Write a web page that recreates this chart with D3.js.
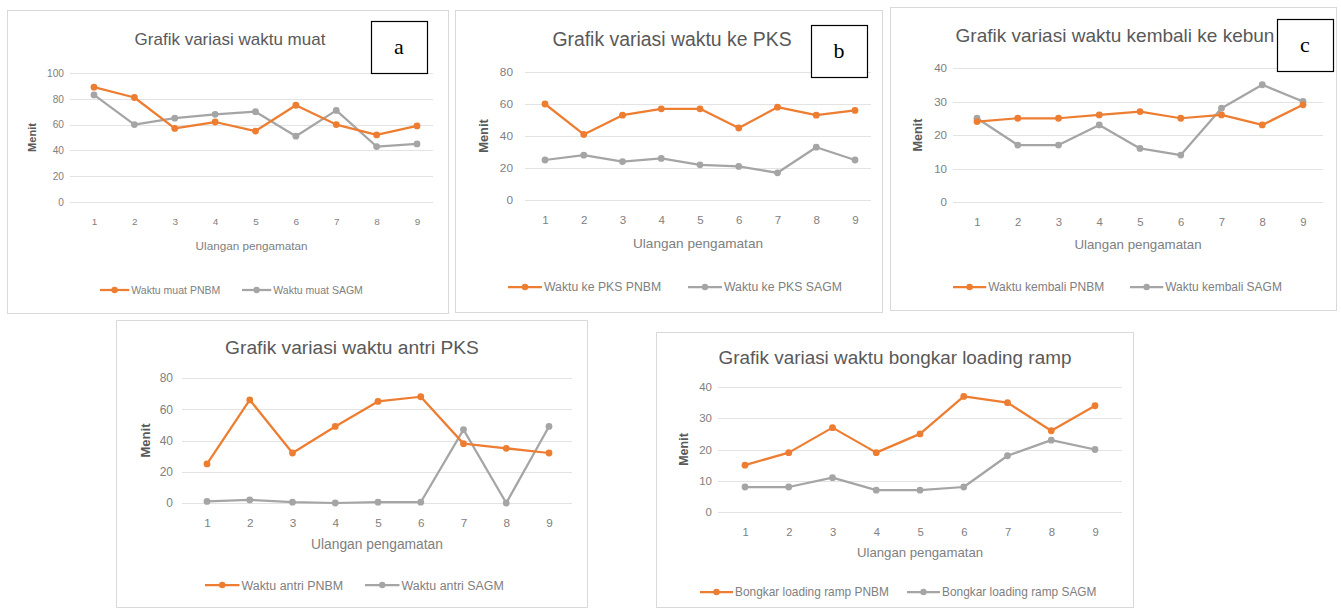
<!DOCTYPE html>
<html>
<head>
<meta charset="utf-8">
<script src="https://cdn.jsdelivr.net/npm/d3@7"></script>
<style>
  body { margin: 0; background: #fff; }
  svg { display: block; }
  text { font-family: "Liberation Sans", Arial, sans-serif; }
</style>
</head>
<body>
<svg id="chart" width="1341" height="608"></svg>
<script>
// observation numbers (x axis)
var ulangan = [1, 2, 3, 4, 5, 6, 7, 8, 9];

// a - waktu muat
var muatPNBM = [89, 81, 57, 62, 55, 75, 60, 52, 59];
var muatSAGM = [83, 60, 65, 68, 70, 51, 71, 43, 45];
// b - waktu ke PKS
var kePksPNBM = [60, 41, 53, 57, 57, 45, 58, 53, 56];
var kePksSAGM = [25, 28, 24, 26, 22, 21, 17, 33, 25];
// c - waktu kembali ke kebun
var kembaliPNBM = [24, 25, 25, 26, 27, 25, 26, 23, 29];
var kembaliSAGM = [25, 17, 17, 23, 16, 14, 28, 35, 30];
// d - waktu antri PKS
var antriPNBM = [25, 66, 32, 49, 65, 68, 38, 35, 32];
var antriSAGM = [1, 2, 0.5, 0, 0.5, 0.5, 47, 0, 49];
// e - bongkar loading ramp
var bongkarPNBM = [15, 19, 27, 19, 25, 37, 35, 26, 34];
var bongkarSAGM = [8, 8, 11, 7, 7, 8, 18, 23, 20];

var yTicksA = [0, 20, 40, 60, 80, 100];
var yTicks80 = [0, 20, 40, 60, 80];
var yTicks40 = [0, 10, 20, 30, 40];

var orange = "#ed7d31", grey = "#a5a5a5", textCol = "#808080";

var svg = d3.select("#chart");

// s = text scale of each (differently resized) panel
var panels = [
  { box: [7, 10, 441, 303], title: "Grafik variasi waktu muat", titleX: 230, titleY: 45, s: 1.17, ts: 17,
    label: "a", labelBox: [371, 21, 56, 52],
    gridL: 70, gridR: 433, x1: 94, x9: 417, yTop: 73, yBot: 202, ticks: yTicksA, tickX: 64,
    axisY: 250, menitX: 36, legY: 290, leg1: 100, leg2: 242,
    names: ["Waktu muat PNBM", "Waktu muat SAGM"], pnbm: muatPNBM, sagm: muatSAGM },
  { box: [455, 10, 427, 302], title: "Grafik variasi waktu ke PKS", titleX: 672, titleY: 46, s: 1.36, ts: 19.4,
    label: "b", labelBox: [811, 25, 56, 52],
    gridL: 525, gridR: 871, x1: 545, x9: 855, yTop: 72, yBot: 200, ticks: yTicks80, tickX: 513,
    axisY: 248, menitX: 488, legY: 287, leg1: 508, leg2: 688,
    names: ["Waktu ke PKS PNBM", "Waktu ke PKS SAGM"], pnbm: kePksPNBM, sagm: kePksSAGM },
  { box: [890, 7, 446, 303], title: "Grafik variasi waktu kembali ke kebun", titleX: 1115, titleY: 42, s: 1.33, ts: 19,
    label: "c", labelBox: [1277, 19, 56, 52],
    gridL: 953, gridR: 1323, x1: 977, x9: 1303, yTop: 68, yBot: 202, ticks: yTicks40, tickX: 947,
    axisY: 249, menitX: 922, legY: 287, leg1: 953, leg2: 1130,
    names: ["Waktu kembali PNBM", "Waktu kembali SAGM"], pnbm: kembaliPNBM, sagm: kembaliSAGM },
  { box: [116, 320, 471, 287], title: "Grafik variasi waktu antri PKS", titleX: 352, titleY: 354, s: 1.38, ts: 19.2,
    label: null,
    gridL: 182, gridR: 572, x1: 207, x9: 549, yTop: 378, yBot: 503, ticks: yTicks80, tickX: 173,
    axisY: 549, menitX: 150, legY: 585, leg1: 205, leg2: 365,
    names: ["Waktu antri PNBM", "Waktu antri SAGM"], pnbm: antriPNBM, sagm: antriSAGM },
  { box: [656, 332, 477, 275], title: "Grafik variasi waktu bongkar loading ramp", titleX: 895, titleY: 364, s: 1.32, ts: 18.9,
    label: null,
    gridL: 718, gridR: 1122, x1: 745, x9: 1095, yTop: 387, yBot: 512, ticks: yTicks40, tickX: 712,
    axisY: 557, menitX: 688, legY: 592, leg1: 700, leg2: 907,
    names: ["Bongkar loading ramp PNBM", "Bongkar loading ramp SAGM"], pnbm: bongkarPNBM, sagm: bongkarSAGM }
];

function drawPanel(p) {
  var g = svg.append("g");
  var s = p.s;

  g.append("rect")
    .attr("x", p.box[0] + 0.5).attr("y", p.box[1] + 0.5)
    .attr("width", p.box[2]).attr("height", p.box[3])
    .attr("fill", "#fff").attr("stroke", "#d9d9d9");

  g.append("text")
    .attr("x", p.titleX).attr("y", p.titleY)
    .attr("text-anchor", "middle")
    .attr("fill", "#595959")
    .style("font-size", p.ts + "px")
    .text(p.title);

  var x = d3.scalePoint().domain(ulangan).range([p.x1, p.x9]);
  var y = d3.scaleLinear().domain([0, d3.max(p.ticks)]).range([p.yBot, p.yTop]);

  // gridlines
  g.append("g").selectAll("line")
    .data(p.ticks)
    .join("line")
    .attr("x1", p.gridL).attr("x2", p.gridR)
    .attr("y1", function (d) { return Math.round(y(d)) + 0.5; })
    .attr("y2", function (d) { return Math.round(y(d)) + 0.5; })
    .attr("stroke", "#e3e3e3");

  // y axis labels
  var yAxis = d3.axisLeft(y).tickValues(p.ticks).tickSize(0).tickPadding(0);
  var ya = g.append("g").attr("transform", "translate(" + p.tickX + ",0)").call(yAxis);
  ya.select(".domain").remove();
  ya.selectAll("text").attr("fill", textCol).style("font-size", (8.7 * s) + "px")
    .style("font-family", "'Liberation Sans', Arial, sans-serif");

  // x axis labels
  var xAxis = d3.axisBottom(x).tickSize(0).tickPadding(0);
  var xa = g.append("g").attr("transform", "translate(0," + (p.yBot + 14 + 1.5 * s) + ")").call(xAxis);
  xa.select(".domain").remove();
  xa.selectAll("text").attr("fill", textCol).style("font-size", (8.5 * s) + "px")
    .style("font-family", "'Liberation Sans', Arial, sans-serif");

  g.append("text")
    .attr("x", (p.gridL + p.gridR) / 2).attr("y", p.axisY)
    .attr("text-anchor", "middle").attr("fill", textCol)
    .style("font-size", (10 * s) + "px")
    .text("Ulangan pengamatan");

  g.append("text")
    .attr("transform", "translate(" + p.menitX + "," + (p.yTop + p.yBot) / 2 + ") rotate(-90)")
    .attr("text-anchor", "middle").attr("fill", "#595959")
    .style("font-size", (9.5 * s) + "px").style("font-weight", "bold")
    .text("Menit");

  var line = d3.line()
    .x(function (d, i) { return x(ulangan[i]); })
    .y(function (d) { return y(d); });

  [[p.sagm, grey], [p.pnbm, orange]].forEach(function (sr) {
    g.append("path").datum(sr[0])
      .attr("d", line).attr("fill", "none")
      .attr("stroke", sr[1]).attr("stroke-width", 2.25)
      .attr("stroke-linejoin", "round");
    g.append("g").selectAll("circle")
      .data(sr[0])
      .join("circle")
      .attr("cx", function (d, i) { return x(ulangan[i]); })
      .attr("cy", function (d) { return y(d); })
      .attr("r", 3.4)
      .attr("fill", sr[1]);
  });

  // legend
  [[p.leg1, orange, p.names[0]], [p.leg2, grey, p.names[1]]].forEach(function (l) {
    var len = 25 * s;
    g.append("line")
      .attr("x1", l[0]).attr("x2", l[0] + len)
      .attr("y1", p.legY).attr("y2", p.legY)
      .attr("stroke", l[1]).attr("stroke-width", 2.25);
    g.append("circle").attr("cx", l[0] + len / 2).attr("cy", p.legY).attr("r", 3.2).attr("fill", l[1]);
    g.append("text")
      .attr("x", l[0] + len + 2).attr("y", p.legY + 3.3 * s)
      .attr("fill", textCol).style("font-size", (9 * s) + "px")
      .text(l[2]);
  });

  if (p.label) {
    var b = p.labelBox;
    g.append("rect")
      .attr("x", b[0] + 0.5).attr("y", b[1] + 0.5)
      .attr("width", b[2]).attr("height", b[3])
      .attr("fill", "#fff").attr("stroke", "#000").attr("stroke-width", 1.2);
    g.append("text")
      .attr("x", b[0] + b[2] / 2).attr("y", b[1] + b[3] / 2 + 7)
      .attr("text-anchor", "middle").attr("fill", "#000")
      .style("font-family", "'Liberation Serif', 'Times New Roman', serif")
      .style("font-size", "22px")
      .text(p.label);
  }
}

panels.forEach(drawPanel);
</script>
</body>
</html>
